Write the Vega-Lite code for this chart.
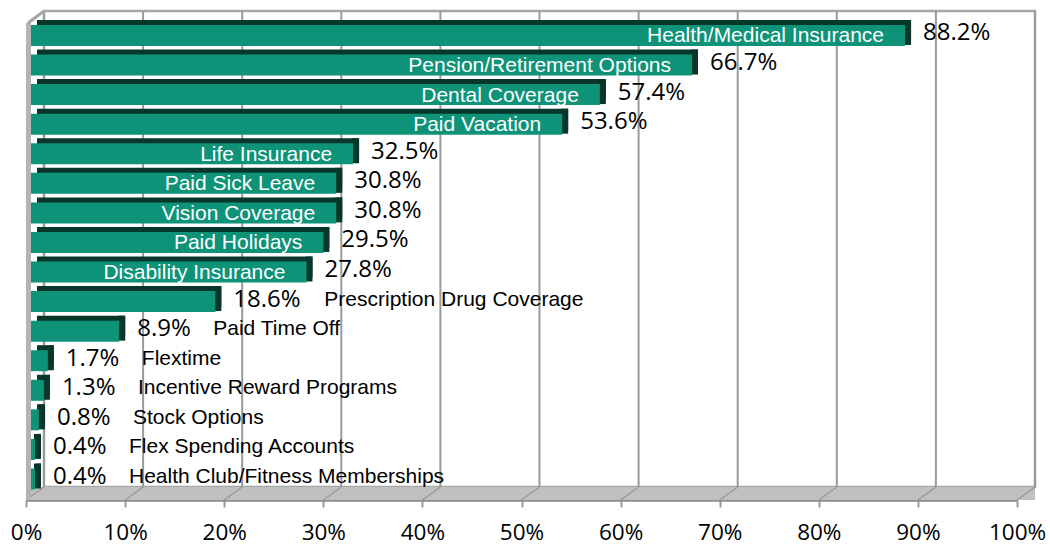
{
  "$schema": "https://vega.github.io/schema/vega-lite/v6.json",
  "width": 991,
  "height": 489,
  "autosize": "none",
  "padding": {"left": 26, "top": 11, "right": 33, "bottom": 48},
  "background": "white",
  "config": {"view": {"stroke": null}},
  "datasets": {
    "benefits": [
      {"benefit": "Health/Medical Insurance", "share": 0.882},
      {"benefit": "Pension/Retirement Options", "share": 0.667},
      {"benefit": "Dental Coverage", "share": 0.574},
      {"benefit": "Paid Vacation", "share": 0.536},
      {"benefit": "Life Insurance", "share": 0.325},
      {"benefit": "Paid Sick Leave", "share": 0.308},
      {"benefit": "Vision Coverage", "share": 0.308},
      {"benefit": "Paid Holidays", "share": 0.295},
      {"benefit": "Disability Insurance", "share": 0.278},
      {"benefit": "Prescription Drug Coverage", "share": 0.186},
      {"benefit": "Paid Time Off", "share": 0.089},
      {"benefit": "Flextime", "share": 0.017},
      {"benefit": "Incentive Reward Programs", "share": 0.013},
      {"benefit": "Stock Options", "share": 0.008},
      {"benefit": "Flex Spending Accounts", "share": 0.004},
      {"benefit": "Health Club/Fitness Memberships", "share": 0.004}
    ],
    "grid": [
      {"t": 0}, {"t": 0.1}, {"t": 0.2}, {"t": 0.3}, {"t": 0.4}, {"t": 0.5},
      {"t": 0.6}, {"t": 0.7}, {"t": 0.8}, {"t": 0.9}, {"t": 1}
    ],
    "one": [{"k": 1}]
  },
  "layer": [
    {
      "data": {"name": "one"},
      "mark": {"type": "rect", "fill": "white", "stroke": "#a6a6a6", "strokeWidth": 2.5, "xOffset": 18, "x2Offset": 18, "y2Offset": -13},
      "encoding": {
        "x": {"datum": 0, "type": "quantitative", "title": null},
        "x2": {"datum": 1},
        "y": {"value": 0},
        "y2": {"value": "height"}
      }
    },
    {
      "data": {"name": "grid"},
      "mark": {"type": "rule", "color": "#9a9a9a", "strokeWidth": 2, "xOffset": 18, "y2Offset": -13},
      "encoding": {
        "x": {"field": "t", "type": "quantitative", "title": null},
        "y": {"value": 0},
        "y2": {"value": "height"}
      }
    },
    {
      "data": {"name": "one"},
      "mark": {"type": "rect", "fill": "#c0c0c0", "x2Offset": 18, "yOffset": -13},
      "encoding": {
        "x": {"datum": 0, "type": "quantitative", "title": null},
        "x2": {"datum": 1},
        "y": {"value": "height"},
        "y2": {"value": "height"}
      }
    },
    {
      "data": {"name": "grid"},
      "mark": {"type": "rule", "color": "#9a9a9a", "strokeWidth": 1.5, "xOffset": 18, "yOffset": -13},
      "encoding": {
        "x": {"field": "t", "type": "quantitative", "title": null},
        "x2": {"field": "t"},
        "y": {"value": "height"},
        "y2": {"value": "height"}
      }
    },
    {
      "data": {"name": "one"},
      "mark": {"type": "rect", "fill": "#b4b4b4", "x2Offset": 5, "yOffset": 12},
      "encoding": {
        "x": {"datum": 0, "type": "quantitative", "title": null},
        "x2": {"datum": 0},
        "y": {"value": 0},
        "y2": {"value": "height"}
      }
    },
    {
      "data": {"name": "one"},
      "mark": {"type": "rule", "color": "#a6a6a6", "strokeWidth": 3, "xOffset": 18, "x2Offset": 2, "y2Offset": 12},
      "encoding": {
        "x": {"datum": 0, "type": "quantitative", "title": null},
        "x2": {"datum": 0},
        "y": {"value": 0},
        "y2": {"value": 0}
      }
    },
    {
      "data": {"name": "benefits"},
      "mark": {"type": "bar", "color": "#06372a", "xOffset": 11, "x2Offset": 11, "yOffset": -5, "y2Offset": -5},
      "encoding": {
        "x": {"field": "share", "type": "quantitative", "title": null},
        "y": {"field": "benefit", "type": "nominal", "sort": null, "axis": null}
      }
    },
    {
      "data": {"name": "benefits"},
      "mark": {"type": "bar", "color": "#06372a", "xOffset": 4, "x2Offset": 11, "yOffset": -3, "y2Offset": -3, "height": {"band": 1.19}},
      "encoding": {
        "x": {"field": "share", "type": "quantitative", "title": null},
        "x2": {"field": "share"},
        "y": {"field": "benefit", "type": "nominal", "sort": null, "axis": null}
      }
    },
    {
      "data": {"name": "benefits"},
      "mark": {"type": "bar", "color": "#0e9378", "xOffset": 5, "x2Offset": 5},
      "encoding": {
        "x": {
          "field": "share", "type": "quantitative", "title": null,
          "scale": {"domain": [0, 1], "nice": false, "zero": true},
          "axis": {
            "values": [0, 0.1, 0.2, 0.3, 0.4, 0.5, 0.6, 0.7, 0.8, 0.9, 1],
            "format": ".0%", "grid": false, "labelFlush": false, "labelOverlap": false,
            "domainColor": "#8c8c8c", "domainWidth": 2.5,
            "tickColor": "#9a9a9a", "tickWidth": 2, "tickSize": 7,
            "labelFont": "Open Sans", "labelFontSize": 22.5, "labelColor": "black",
            "labelPadding": 14
          }
        },
        "y": {
          "field": "benefit", "type": "nominal", "sort": null, "axis": null,
          "scale": {"paddingInner": 0.29, "paddingOuter": 0.414, "align": 0.571}
        }
      }
    },
    {
      "data": {"name": "benefits"},
      "mark": {"type": "text", "font": "Open Sans", "fontSize": 24, "color": "black", "align": "left", "baseline": "middle", "dx": 23, "dy": -2},
      "encoding": {
        "x": {"field": "share", "type": "quantitative", "title": null},
        "y": {"field": "benefit", "type": "nominal", "sort": null, "axis": null},
        "text": {"field": "share", "type": "quantitative", "format": ".1%"}
      }
    },
    {
      "data": {"name": "benefits"},
      "transform": [{"filter": "datum.share >= 0.25"}],
      "mark": {"type": "text", "font": "Liberation Sans", "fontSize": 21, "color": "white", "align": "right", "baseline": "middle", "dx": -16, "dy": 1},
      "encoding": {
        "x": {"field": "share", "type": "quantitative", "title": null},
        "y": {"field": "benefit", "type": "nominal", "sort": null, "axis": null},
        "text": {"field": "benefit"}
      }
    },
    {
      "data": {"name": "benefits"},
      "transform": [{"filter": "datum.share >= 0.1 && datum.share < 0.25"}],
      "mark": {"type": "text", "font": "Liberation Sans", "fontSize": 21, "color": "black", "align": "left", "baseline": "middle", "dx": 114, "dy": -2},
      "encoding": {
        "x": {"field": "share", "type": "quantitative", "title": null},
        "y": {"field": "benefit", "type": "nominal", "sort": null, "axis": null},
        "text": {"field": "benefit"}
      }
    },
    {
      "data": {"name": "benefits"},
      "transform": [{"filter": "datum.share < 0.1"}],
      "mark": {"type": "text", "font": "Liberation Sans", "fontSize": 21, "color": "black", "align": "left", "baseline": "middle", "dx": 99, "dy": -2},
      "encoding": {
        "x": {"field": "share", "type": "quantitative", "title": null},
        "y": {"field": "benefit", "type": "nominal", "sort": null, "axis": null},
        "text": {"field": "benefit"}
      }
    }
  ]
}
